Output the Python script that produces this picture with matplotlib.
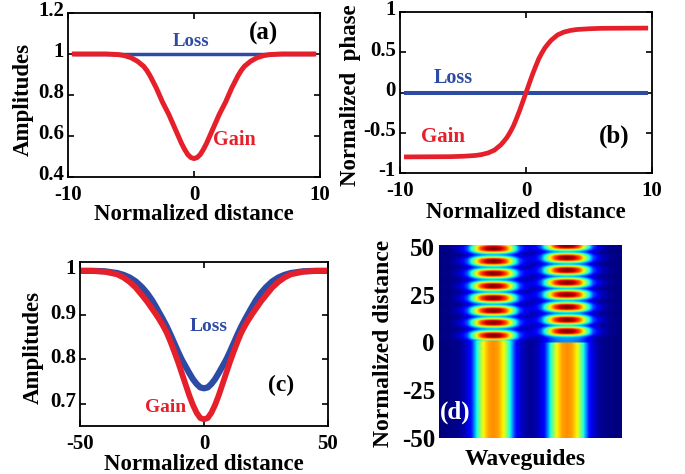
import numpy as np
import matplotlib
matplotlib.use("Agg")
import matplotlib.pyplot as plt
from matplotlib.transforms import ScaledTranslation

plt.rcParams['font.family'] = ['Liberation Serif', 'DejaVu Serif']
plt.rcParams['font.weight'] = 'bold'
plt.rcParams['axes.labelweight'] = 'bold'
plt.rcParams['axes.unicode_minus'] = False

RED = '#e6202a'
BLUE = '#2d4ba5'

# (a) amplitudes vs normalized distance (right half, curve is symmetric)
xa_half = [0, 0.25, 0.5, 0.75, 1.0, 1.25, 1.5, 1.75, 2.0, 2.25, 2.5, 2.75, 3.0,
           3.25, 3.5, 3.75, 4.0, 4.5, 5.0, 5.5, 6.0, 7.0, 9.5]
gain_a_half = [0.49, 0.495, 0.51, 0.535, 0.565, 0.60, 0.635, 0.67, 0.705, 0.735, 0.765, 0.80, 0.835,
               0.865, 0.895, 0.92, 0.94, 0.965, 0.982, 0.992, 0.997, 1.0, 1.0]

# (b) normalized phase (right half, curve is odd)
xb_half = [0, 0.25, 0.5, 0.75, 1.0, 1.25, 1.5, 1.75, 2.0, 2.5, 3.0, 3.5, 4.0, 5.0, 6.0, 9.5]
gain_b_half = [0.0, 0.11, 0.22, 0.32, 0.415, 0.49, 0.555, 0.605, 0.65, 0.715, 0.75, 0.77,
               0.782, 0.792, 0.797, 0.8]

# (c) amplitudes over the longer range (right half)
xc_half = [0, 1.5, 3, 4.5, 6, 7.5, 9, 10.5, 12, 13.5, 15, 16.5, 18, 19.5, 21, 23, 25,
           27.5, 30, 32.5, 35, 40, 45, 50]
loss_c_half = [0.735, 0.737, 0.745, 0.756, 0.77, 0.785, 0.80, 0.818, 0.837, 0.856, 0.874, 0.89,
               0.905, 0.92, 0.934, 0.95, 0.963, 0.976, 0.985, 0.991, 0.995, 0.999, 1.0, 1.0]
gain_c_half = [0.665, 0.668, 0.68, 0.698, 0.72, 0.745, 0.77, 0.795, 0.818, 0.84, 0.86, 0.876,
               0.89, 0.903, 0.915, 0.931, 0.945, 0.962, 0.975, 0.985, 0.992, 0.998, 1.0, 1.0]

# (d) waveguide intensity map
guide_pos = [0.297, 0.70]
# transverse profile: offset from guide centre (fraction of panel width) -> relative level
prof_off = [0.0, 0.027, 0.055, 0.077, 0.098, 0.12, 0.153, 0.197, 0.273, 0.44]
prof_val = [1.0, 0.97, 0.85, 0.65, 0.42, 0.2, 0.07, 0.015, 0.0, 0.0]
blob_z1 = [3.7, 10.4, 16.7, 23.3, 29.6, 36.2, 42.6, 49.3]
blob_z2 = [5.9, 11.9, 18.6, 25.1, 31.4, 37.9, 44.4, 50.7]
z_switch = [1.0, 0.0]
level_before = 0.76
level_between = 0.27
level_peak = 1.0


def mirror(xh, yh, odd=False):
    xs = [-v for v in reversed(xh[1:])] + list(xh)
    ys = [(-v if odd else v) for v in reversed(yh[1:])] + list(yh)
    return xs, ys


xa, gain_a = mirror(xa_half, gain_a_half)
loss_a = [1.0] * len(xa)
xb, gain_b = mirror(xb_half, gain_b_half, odd=True)
loss_b = [0.0] * len(xb)
xc, loss_c = mirror(xc_half, loss_c_half)
_, gain_c = mirror(xc_half, gain_c_half)

fig = plt.figure(figsize=(6.85, 4.74), dpi=100)
lift = ScaledTranslation(0, 3 / 72, fig.dpi_scale_trans)


def style(ax):
    ax.tick_params(direction='in', top=True, right=True, length=4, width=1.2, labelsize=15)
    ax.tick_params(axis='x', pad=6)
    ax.tick_params(axis='y', pad=3)
    # lift the y tick labels a little so the corner ones clear the x labels
    for t in ax.get_yticklabels():
        t.set_transform(t.get_transform() + lift)
    for s in ax.spines.values():
        s.set_linewidth(1.3)


def labels(ax, xl, yl, xpos, ypos, size=16.5):
    ax.set_xlabel(xl, fontsize=size)
    ax.set_ylabel(yl, fontsize=size)
    ax.xaxis.set_label_coords(*xpos)
    ax.yaxis.set_label_coords(*ypos)
    ax.xaxis.label.set_va('center')
    ax.yaxis.label.set_va('center')


# ---- (a)
ax = fig.add_axes([0.0993, 0.6266, 0.3679, 0.346])
ax.plot(xa, loss_a, color=BLUE, lw=2.5, solid_capstyle='butt')
ax.plot(xa, gain_a, color=RED, lw=3.6, solid_joinstyle='round')
ax.set_xlim(-10, 10)
ax.set_ylim(0.4, 1.2)
ax.set_xticks([-10, 0, 10])
ax.set_yticks([0.4, 0.6, 0.8, 1.0, 1.2])
ax.set_yticklabels(['0.4', '0.6', '0.8', '1', '1.2'])
style(ax)
labels(ax, 'Normalized distance', 'Amplitudes', (0.5, -0.228), (-0.179, 0.47))
ax.text(-0.25, 1.06, 'Loss', color=BLUE, fontsize=13.5, ha='center', va='center')
ax.text(3.2, 0.58, 'Gain', color=RED, fontsize=14.5, ha='center', va='center')
ax.text(5.5, 1.10, '(a)', color='black', fontsize=18, ha='center', va='center')

# ---- (b)
ax = fig.add_axes([0.584, 0.635, 0.3679, 0.3397])
ax.plot(xb, loss_b, color=BLUE, lw=2.9)
ax.plot(xb, gain_b, color=RED, lw=3.4, solid_joinstyle='round')
ax.set_xlim(-10, 10)
ax.set_ylim(-1, 1)
ax.set_xticks([-10, 0, 10])
ax.set_yticks([-1, -0.5, 0, 0.5, 1])
ax.set_yticklabels(['-1', '-0.5', '0', '0.5', '1'])
style(ax)
labels(ax, 'Normalized distance', 'Normalized  phase', (0.5, -0.243), (-0.198, 0.484))
ax.text(-5.8, 0.175, 'Loss', color=BLUE, fontsize=14.5, ha='center', va='center')
ax.text(-6.6, -0.55, 'Gain', color=RED, fontsize=15, ha='center', va='center')
ax.text(7.0, -0.55, '(b)', color='black', fontsize=18, ha='center', va='center')

# ---- (c)
ax = fig.add_axes([0.1168, 0.1013, 0.362, 0.346])
ax.plot(xc, loss_c, color=BLUE, lw=4.5, solid_joinstyle='round')
ax.plot(xc, gain_c, color=RED, lw=4.2, solid_joinstyle='round')
ax.set_xlim(-50, 50)
ax.set_ylim(0.65, 1.02)
ax.set_xticks([-50, 0, 50])
ax.set_yticks([0.7, 0.8, 0.9, 1.0])
ax.set_yticklabels(['0.7', '0.8', '0.9', '1'])
style(ax)
labels(ax, 'Normalized distance', 'Amplitudes', (0.5, -0.235), (-0.19, 0.476))
ax.text(1.9, 0.874, 'Loss', color=BLUE, fontsize=14, ha='center', va='center')
ax.text(-15.4, 0.692, 'Gain', color=RED, fontsize=14, ha='center', va='center')
ax.text(30.9, 0.742, '(c)', color='black', fontsize=17, ha='center', va='center')

# ---- (d)
ax = fig.add_axes([0.641, 0.076, 0.267, 0.407])
zlo, zhi = -50, 51
xs = np.linspace(0, 1, 300)
zs = np.linspace(zlo, zhi, 600)
img = np.zeros((len(zs), len(xs)))
for xg, blobs, zsw in zip(guide_pos, [blob_z1, blob_z2], z_switch):
    d = np.abs(xs - xg)
    prof = np.interp(d, prof_off, prof_val)
    prof_w = np.interp(d / 1.2, prof_off, prof_val)   # blobs spread a bit wider
    bump = np.zeros_like(zs)
    for zb in blobs:
        bump = np.maximum(bump, np.exp(-np.abs((zs - zb) / 2.3) ** 3))
    amp_blob = level_between + (level_peak - level_between) * bump
    below = (zs < zsw)[:, None]
    img += np.where(below, level_before * prof[None, :], amp_blob[:, None] * prof_w[None, :])
ax.imshow(np.clip(img, 0, 1), cmap='jet', vmin=0, vmax=1, aspect='auto', origin='lower',
          extent=[0, 1, zlo, zhi], interpolation='bilinear')
ax.set_xlim(0, 1)
ax.set_ylim(zlo, zhi)
ax.set_xticks([])
ax.set_yticks([-50, -25, 0, 25, 50])
ax.tick_params(length=0, labelsize=18, pad=3)
for s in ax.spines.values():
    s.set_visible(False)
ax.set_xlabel('Waveguides', fontsize=17)
ax.set_ylabel('Normalized distance', fontsize=17)
ax.xaxis.set_label_coords(0.47, -0.114)
ax.yaxis.set_label_coords(-0.306, 0.49)
ax.xaxis.label.set_va('center')
ax.yaxis.label.set_va('center')
ax.text(0.09, -36.3, '(d)', color='white', fontsize=18, ha='center', va='center')

fig.savefig('out.png', dpi=100)
